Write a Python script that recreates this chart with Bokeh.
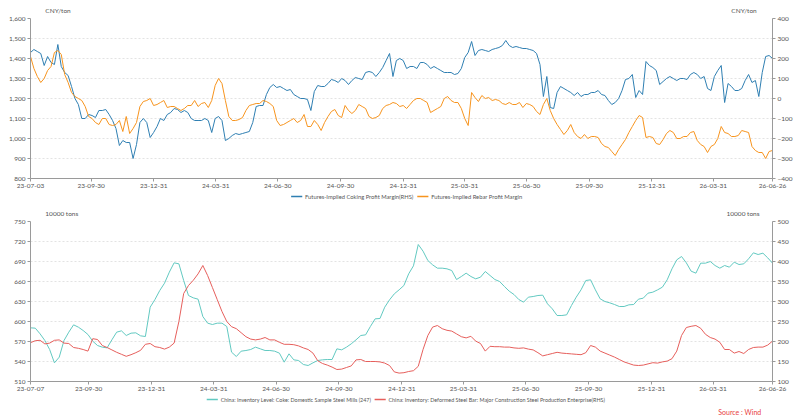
import pandas as pd
from bokeh.plotting import figure
from bokeh.models import (Range1d, LinearAxis, FixedTicker, DatetimeTickFormatter,
                          NumeralTickFormatter)
from bokeh.core.properties import value
from bokeh.layouts import column
from bokeh.embed import file_html
from bokeh.resources import INLINE

# ---- top panel: futures-implied margins (roughly every 5 days) ----
top_dates = pd.date_range("2023-07-03", "2026-06-26", periods=218)

# coking margin, right axis (CNY/ton)
coking_margin = [
    230, 245, 235, 225, 165, 210, 180, 170, 270, 160,
    130, 115, 60, 0, -30, -100, -100, -80, -85, -95,
    -60, -60, -55, -80, -110, -150, -235, -210, -220, -220,
    -300, -230, -120, -100, -120, -195, -170, -140, -100, -110,
    -80, -70, -50, -55, -70, -60, -70, -100, -110, -110,
    -110, -100, -110, -170, -100, -90, -110, -210, -200, -185,
    -175, -180, -175, -170, -165, -120, -40, -35, -35, 20,
    55, 70, 55, 60, 50, 40, 45, 20, 10, 0,
    0, -5, -60, 35, 65, 60, 60, 75, 95, 90,
    80, 100, 90, 70, 90, 105, 100, 95, 130, 135,
    130, 110, 130, 155, 190, 225, 110, 190, 200,
    190, 150, 160, 160, 150, 180, 180, 170, 150, 160, 150,
    140, 130, 130, 130, 120, 125, 150, 205, 230, 285,
    215, 240, 245, 240, 235, 245, 250, 255, 265, 290,
    265, 255, 260, 255, 250, 250, 245, 240, 225, 170,
    10, 110, -45, -50, 30, 60, 50, 40, 30, 15,
    30, 10, 20, 20, 30, 30, 40, 20, 15, -10,
    -30, -20, 0, 40, 95, 100, 120, 5, 40, 20,
    185, 165, 155, 140, 70, 85, 100, 110, 100, 90,
    100, 100, 95, 120, 130, 120, 100, 110, 50, 40,
    110, 140, 165, -20, 75, 60, 40, 40, 50, 90,
    120, 80, 90, 10, 130, 210, 215, 200,
]

# rebar margin, left axis (CNY/ton)
rebar_margin = [
    1410, 1350, 1310, 1280, 1300, 1340, 1360, 1430, 1440, 1420,
    1320, 1280, 1230, 1210, 1200, 1190, 1160, 1110, 1100, 1080,
    1070, 1100, 1100, 1070, 1065, 1070, 1090, 1035, 1110, 1025,
    1050, 1080, 1160, 1185, 1190, 1200, 1165, 1170, 1180, 1190,
    1155, 1160, 1160, 1150, 1140, 1150, 1165, 1165, 1190, 1160,
    1175, 1180, 1155, 1190, 1265, 1300, 1275, 1190, 1110, 1090,
    1090, 1095, 1105, 1140, 1165, 1170, 1175, 1175, 1190, 1185,
    1175, 1160, 1090, 1065, 1070, 1080, 1090, 1100, 1080, 1090,
    1120, 1060, 1060, 1090, 1070, 1040, 1080, 1110, 1135, 1145,
    1115, 1105, 1165, 1140, 1125, 1140, 1170, 1160, 1150, 1110,
    1100, 1105, 1115, 1150, 1165, 1170, 1180, 1175, 1160,
    1165, 1150, 1170, 1190, 1200, 1200, 1190, 1180, 1130, 1140, 1150,
    1160, 1200, 1210, 1190, 1180, 1180, 1150, 1100, 1065, 1230,
    1205, 1185, 1215, 1200, 1205, 1190, 1195, 1190, 1175, 1170,
    1180, 1170, 1170, 1180, 1155, 1175, 1170, 1160, 1135, 1120,
    1170, 1200, 1140, 1100, 1070, 1045, 1020, 1040, 1070, 1030,
    1010, 1000, 1020, 1000, 1010, 1010, 1005, 975, 960, 955,
    935, 915, 945, 970, 995, 1030, 1060, 1090, 1115, 1105,
    1005, 1010, 1005, 975, 970, 995, 1025, 1040, 1030, 1000,
    1000, 1010, 1010, 1030, 1035, 990, 970, 960, 930, 960,
    970, 1000, 1060, 1030, 1025, 1010, 1010, 1015, 1040, 1035,
    1030, 960, 940, 930, 930, 900, 935, 940,
]

# ---- bottom panel: weekly inventories (10000 tons) ----
bottom_dates = pd.date_range("2023-07-07", "2026-06-26", freq="7D")

coke_inventory = [
    590.5, 590, 581.5, 571.5, 558, 538, 546.5, 571.5, 584, 595,
    591.5, 586.5, 580.5, 570.5, 564, 561.5, 560.5, 572.5, 584, 586,
    579, 582.5, 583, 578.5, 577.5, 621.5, 633, 646.5, 657.5, 674,
    688, 686.5, 661.5, 639, 635.5, 633.5, 607.5, 597.5, 595.5, 597.5,
    597.5, 592.5, 554, 547.5, 555.5, 556.5, 558, 561.5, 559, 556.5,
    556.5, 555.5, 552.5, 539, 551.5, 542.5, 541.5, 535.5, 534, 538,
    541.5, 542.5, 543, 543, 559, 557.5, 561.5, 566.5, 572.5, 579,
    580, 592.5, 604, 604.5, 621.5, 632.5, 641.5, 647.5, 654, 671.5,
    683.5, 715.5, 705.5, 691.5, 685, 680, 680, 679, 676.5, 663,
    667.5, 672.5, 667.5, 664, 666.5, 675, 669, 663, 660, 652.5,
    645.5, 640.5, 633, 629, 636.5, 637.5, 639, 639.5, 626.5, 619,
    609, 609, 610, 624, 636.5, 647.5, 661.5, 662.5, 647.5, 634,
    630, 628, 625.5, 622.5, 622.5, 625, 625.5, 633.5, 635, 642.5,
    644, 647.5, 651.5, 662.5, 679, 692.5, 697.5, 688, 675.5, 672.5,
    687.5, 687.5, 690, 684, 680, 684, 681.5, 689, 685.5, 686.5,
    694, 703, 700.5, 702.5, 695.5, 687.5,
]

rebar_inventory = [
    197, 202, 203, 194, 196, 203, 204, 196, 195, 185,
    183, 180, 176, 207, 205, 190, 185, 179, 173, 168,
    163, 167, 172, 178, 193, 195, 187, 185, 181, 186,
    196, 250, 320, 340, 353, 369, 390, 365, 335, 305,
    275, 250, 237, 232, 222, 212, 206, 204, 206, 210,
    204, 204, 198, 193, 193, 192, 189, 184, 180, 171,
    152, 145, 141, 136, 130, 131, 135, 139, 154, 155,
    150, 150, 150, 149, 146, 140, 124, 121, 122, 125,
    127, 138, 180, 215, 236, 240, 232, 228, 226, 219,
    212, 209, 213, 201, 195, 176, 188, 187, 187, 186,
    186, 184, 183, 184, 181, 179, 172, 164, 167, 170,
    173, 171, 170, 169, 168, 167, 172, 190, 186, 176,
    171, 166, 161, 155, 149, 145, 141, 140, 141, 144,
    147, 146, 149, 151, 157, 176, 215, 235, 238, 240,
    233, 218, 210, 206, 198, 180, 180, 171, 175, 170,
    180, 185, 186, 186, 191, 201,
]

top_ticks = ["2023-07-03", "2023-09-30", "2023-12-31", "2024-03-31", "2024-06-30",
             "2024-09-30", "2024-12-31", "2025-03-31", "2025-06-30", "2025-09-30",
             "2025-12-31", "2026-03-31", "2026-06-26"]
bottom_ticks = ["2023-07-07"] + top_ticks[1:]

top_names = ["Futures-Implied Coking Profit Margin(RHS)", "Futures-Implied Rebar Profit Margin"]
bottom_names = ["China: Inventory Level: Coke: Domestic Sample Steel Mills (247)",
                "China: Inventory: Deformed Steel Bar: Major Construction Steel Production Enterprise(RHS)"]

BLUE = "#2f7fb2"
ORANGE = "#f7941e"
TEAL = "#62c9c1"
RED = "#e65f5c"
FONT = "Lato"
TXT = "#555555"
AX = "#9a9a9a"
W = 800


def ms(d):
    return pd.Timestamp(d).value / 1e6


def style_axis(ax):
    ax.axis_line_color = AX
    ax.major_tick_line_color = AX
    ax.minor_tick_line_color = None
    ax.major_tick_out = 3
    ax.major_tick_in = 0
    ax.major_label_text_font = FONT
    ax.major_label_text_font_size = "6.5px"
    ax.major_label_text_color = TXT
    ax.major_label_standoff = 2


def make_panel(dates, left_rng, left_step, right_rng, right_step, ticks, left_fmt):
    p = figure(width=W, height=177, x_axis_type="datetime",
               x_range=Range1d(ms(dates[0]), ms(dates[-1])),
               y_range=Range1d(*left_rng),
               output_backend="svg", toolbar_location=None,
               min_border_left=30, min_border_right=28,
               min_border_top=4, min_border_bottom=13)
    p.outline_line_color = None
    p.xgrid.grid_line_color = None
    p.ygrid.grid_line_color = "#e3e3e3"
    p.ygrid.grid_line_dash = "2 2"
    p.extra_y_ranges = {"rhs": Range1d(*right_rng)}
    p.add_layout(LinearAxis(y_range_name="rhs"), "right")

    p.xaxis.ticker = FixedTicker(ticks=[ms(t) for t in ticks])
    fmt = "%y-%m-%d"
    p.xaxis.formatter = DatetimeTickFormatter(days=fmt, months=fmt, years=fmt,
                                              hours=fmt, hourmin=fmt)
    p.yaxis[0].ticker = FixedTicker(ticks=list(range(left_rng[0], left_rng[1] + 1, left_step)))
    p.yaxis[0].formatter = NumeralTickFormatter(format=left_fmt)
    p.yaxis[1].ticker = FixedTicker(ticks=list(range(right_rng[0], right_rng[1] + 1, right_step)))
    for ax in p.axis:
        style_axis(ax)
    return p


def strip(h):
    # plain text band: x/y in pixels, y counted from the top
    s = figure(width=W, height=h, x_range=Range1d(0, W), y_range=Range1d(h, 0),
               output_backend="svg", toolbar_location=None, min_border=0,
               x_axis_location=None, y_axis_location=None)
    s.outline_line_color = None
    for g in s.grid:
        g.visible = False
    return s


def put_text(s, x, y, text, align="left", size="6.5px", color=TXT):
    s.text(x=[x], y=[y], text=[text], text_align=align, text_baseline="middle",
           text_font=value(FONT), text_font_size=value(size), text_color=color)


def legend_row(s, y, entries, size):
    for (x, name, color) in entries:
        s.segment(x0=[x], y0=[y], x1=[x + 12], y1=[y], line_color=color, line_width=1.5)
        put_text(s, x + 15, y, name, size=size)


# units above the top chart
u1 = strip(14)
put_text(u1, 16, 10, "CNY/ton")
put_text(u1, 783, 10, "CNY/ton", align="right")

# top chart
p1 = make_panel(top_dates, (800, 1600), 100, (-400, 400), 100, top_ticks, "0,0")
p1.line(top_dates, coking_margin, y_range_name="rhs", color=BLUE, line_width=1)
p1.line(top_dates, rebar_margin, color=ORANGE, line_width=1)

# legend of the top chart + units of the bottom chart
m = strip(26)
legend_row(m, 5, [(281, top_names[0], BLUE), (417, top_names[1], ORANGE)], "5.8px")
put_text(m, 16, 22, "10000 tons")
put_text(m, 786, 22, "10000 tons", align="right")

# bottom chart
p2 = make_panel(bottom_dates, (510, 750), 30, (100, 500), 50, bottom_ticks, "0")
p2.line(bottom_dates, coke_inventory, color=TEAL, line_width=1)
p2.line(bottom_dates, rebar_inventory, y_range_name="rhs", color=RED, line_width=1)

# legend of the bottom chart + source
b = strip(26)
legend_row(b, 5, [(190, bottom_names[0], TEAL), (371, bottom_names[1], RED)], "5.4px")
put_text(b, 788, 17, "Source : Wind", align="right", size="7px", color="#e8423f")

layout = column(u1, p1, m, p2, b, spacing=0)
open("out.html", "w").write(file_html(layout, INLINE))
